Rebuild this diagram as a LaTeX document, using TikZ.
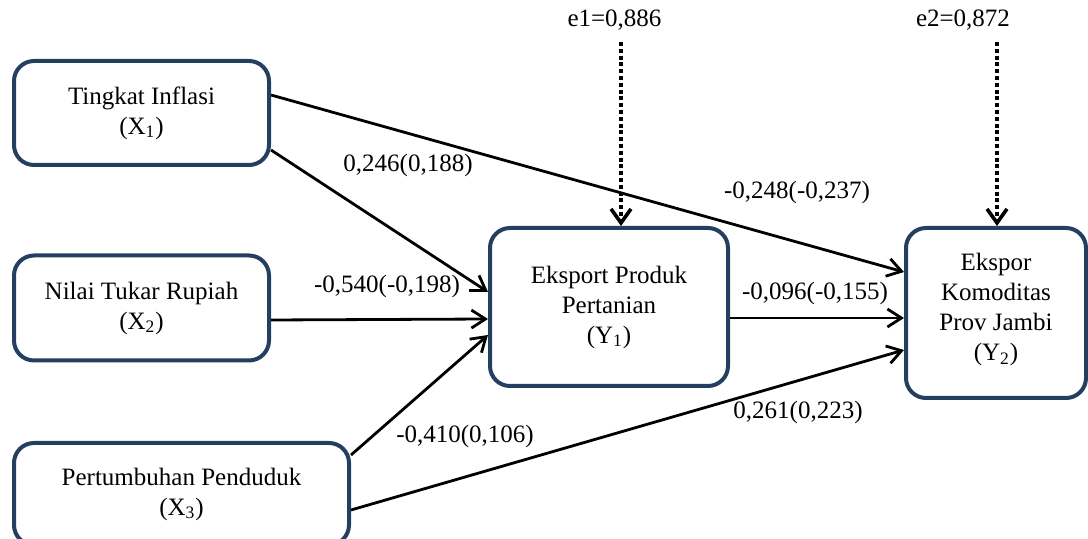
\documentclass[tikz,border=0pt]{standalone}
\usepackage{fontspec}
\setmainfont{Liberation Serif}
\usepackage{tikz}
\usetikzlibrary{arrows.meta}
\definecolor{boxblue}{RGB}{36,63,96}

\begin{document}
\begin{tikzpicture}[x=0.5pt,y=-0.5pt,
   var/.style={draw=boxblue,line width=2pt,rounded corners=10pt,align=center,
     inner sep=0pt,font=\fontsize{12.5}{15}\selectfont},
   coef/.style={font=\fontsize{12.5}{15}\selectfont},
   effect/.style={line width=1.4pt,-{Straight Barb[length=7pt,width=9pt,line width=1.4pt]}},
   err/.style={line width=2.2pt,dash pattern=on 2pt off 1.4pt,
     -{Straight Barb[length=7pt,width=10pt,line width=1.8pt]}}]
   \useasboundingbox (0,0) rectangle (1088,539);

   % variables
   \node[var,minimum width=127.5pt,minimum height=52pt] (x1) at (141.5,113) {Tingkat Inflasi\\(X\textsubscript{1})};
   \node[var,minimum width=127.5pt,minimum height=52.5pt] (x2) at (141.5,308) {Nilai Tukar Rupiah\\(X\textsubscript{2})};
   \node[var,minimum width=167.5pt,minimum height=51pt] (x3) at (181.5,494) {Pertumbuhan Penduduk\\(X\textsubscript{3})};
   \node[var,minimum width=119pt,minimum height=79pt] (y1) at (609,307) {Eksport Produk\\Pertanian\\(Y\textsubscript{1})};
   \node[var,minimum width=90pt,minimum height=85pt] (y2) at (996,313) {Ekspor\\Komoditas\\Prov Jambi\\(Y\textsubscript{2})\\[-9pt]};

   % errors
   \node[coef] (e1) at (614.5,20) {e1=0,886};
   \node[coef] (e2) at (963,20) {e2=0,872};
   \coordinate (e1s) at (621,42);
   \coordinate (e2s) at (997,42);
   \draw[err] (e1s) -- ([xshift=6pt]y1.north);
   \draw[err] (e2s) -- ([xshift=0.5pt]y2.north);

   % paths
   \draw[effect] ([yshift=9pt]x1.east) -- ([yshift=20.5pt]y2.west);
   \draw[effect] ([yshift=-18.5pt]x1.east) -- ([yshift=7.5pt]y1.west);
   \draw[effect] ([yshift=-6pt]x2.east) -- ([yshift=-6pt]y1.west);
   \draw[effect] ([yshift=19.5pt]x3.east) -- ([yshift=-14pt]y1.west);
   \draw[effect] ([yshift=-8pt]x3.east) -- ([yshift=-18.5pt]y2.west);
   \draw[effect] ([yshift=-5.5pt]y1.east) -- ([yshift=-2.5pt]y2.west);

   % coefficients
   \node[coef] (b1) at (408,165) {0,246(0,188)};
   \node[coef] (b2) at (797,192) {-0,248(-0,237)};
   \node[coef] (b3) at (387,286) {-0,540(-0,198)};
   \node[coef] (b4) at (815,293) {-0,096(-0,155)};
   \node[coef] (b5) at (465,436) {-0,410(0,106)};
   \node[coef] (b6) at (798,412) {0,261(0,223)};
\end{tikzpicture}
\end{document}
